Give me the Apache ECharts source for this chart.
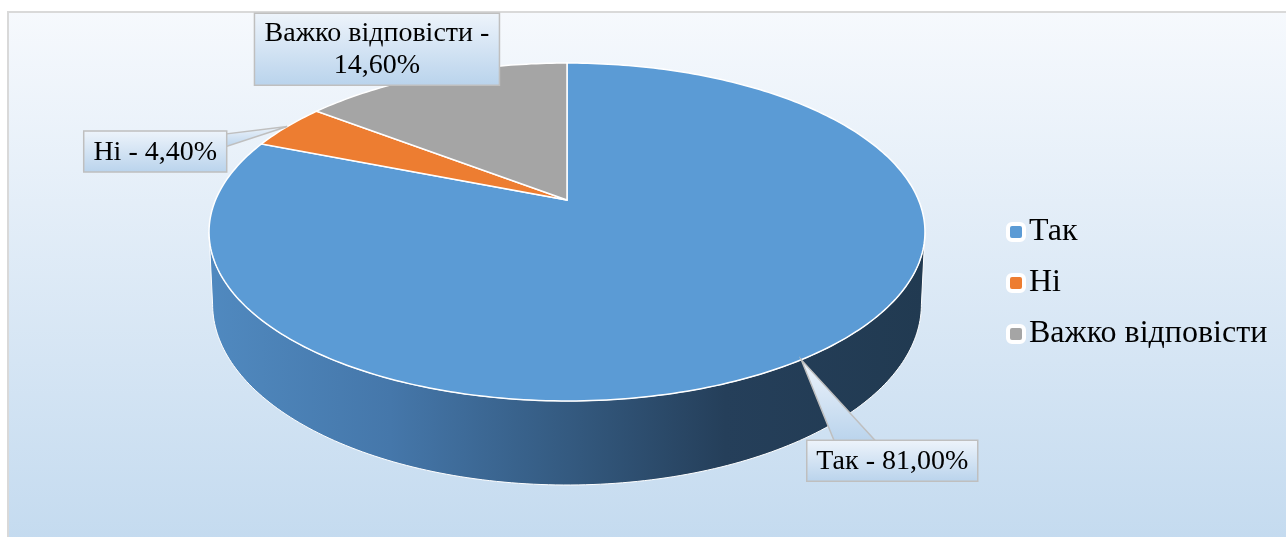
<!DOCTYPE html>
<html>
<head>
<meta charset="utf-8">
<script src="https://cdn.jsdelivr.net/npm/echarts@6/dist/echarts.min.js"></script>
<style>
  html, body { margin: 0; padding: 0; background: #fff; }
  #chart { width: 1286px; height: 537px; }
</style>
</head>
<body>
<div id="chart"></div>
<script>
// дані діаграми
const categories = ['Так', 'Ні', 'Важко відповісти'];
const values = [81.0, 4.4, 14.6];
const colors = ['#5b9bd5', '#ed7d31', '#a5a5a5'];

const serif = '"Times New Roman", "Liberation Serif", "DejaVu Serif", serif';

// розкладка підписів (зсув центру рамки від точки на краю, розмір рамки)
const labelLayout = [
  { dx: 91, dy: 101, w: 171, h: 41, wrap: false, base: 'top', b1: 28, b2: 70 },
  { dx: -132, dy: 25, w: 143, h: 41, wrap: false, base: 'right', b1: 3, b2: 16 },
  { dx: -57, dy: -26, w: 245, h: 72, wrap: true, base: 'none' }
];

// перспектива верхньої та нижньої площини
const topP = { cx: 567, cy: 200, a: 351.5, b: 162.9, k: 0.1893 };
const botP = { cx: 567, cy: 270, a: 348, b: 174.3, k: 0.1893 };

function proj(p, deg) {
  const t = deg * Math.PI / 180;
  const u = Math.cos(t), v = Math.sin(t);
  const d = 1 + p.k * v;
  return [p.cx + p.a * u / d, p.cy - p.b * v / d];
}

function arc(p, from, to) {
  const pts = [];
  const n = Math.max(2, Math.ceil(Math.abs(to - from)));
  for (let i = 0; i <= n; i++) {
    pts.push(proj(p, from + (to - from) * i / n));
  }
  return pts;
}

const total = values.reduce((s, v) => s + v, 0);
const wDeg = Math.asin(topP.k) * 180 / Math.PI; // найширша точка

function fmt(v) {
  return v.toFixed(2).replace('.', ',') + '%';
}

const sideGrad = {
  type: 'linear', x: 212, y: 0, x2: 925, y2: 0, global: true,
  colorStops: [
    { offset: 0, color: '#5089bf' },
    { offset: 0.25, color: '#4577aa' },
    { offset: 0.5, color: '#345a80' },
    { offset: 0.72, color: '#253f5a' },
    { offset: 1, color: '#213a51' }
  ]
};
const boxGrad = {
  type: 'linear', x: 0, y: 0, x2: 0, y2: 1,
  colorStops: [
    { offset: 0, color: '#eef4fb' },
    { offset: 1, color: '#b9d3ec' }
  ]
};

function renderSlice(params, api) {
  const idx = params.seriesIndex;
  let before = 0;
  for (let i = 0; i < idx; i++) before += values[i];
  const s = 90 - 360 * before / total;
  const e = 90 - 360 * (before + values[idx]) / total;
  const children = [];

  // верх
  children.push({
    type: 'polygon',
    z2: 10,
    shape: { points: [[topP.cx, topP.cy]].concat(arc(topP, s, e)) },
    style: { fill: colors[idx], stroke: '#fff', lineWidth: 1.5 }
  });

  // бічна стінка (тільки передня частина)
  const lo = -180 + wDeg, hi = -wDeg;
  [0, 360, -360].forEach(sh => {
    const a = Math.min(s + sh, hi), b = Math.max(e + sh, lo);
    if (a > b) {
      const pts = arc(topP, a, b).concat(arc(botP, b, a));
      children.push({
        type: 'polygon',
        z2: 1,
        shape: { points: pts },
        style: { fill: idx === 0 ? sideGrad : colors[idx], stroke: '#fff', lineWidth: 1 }
      });
    }
  });

  // підпис
  const L = labelLayout[idx];
  const anchor = proj(topP, (s + e) / 2);
  const bx = anchor[0] + L.dx - L.w / 2;
  const by = anchor[1] + L.dy - L.h / 2;
  if (L.base === 'top') {
    children.push({
      type: 'polygon', z2: 100,
      shape: { points: [anchor, [bx + L.b1, by + 2], [bx + L.b2, by + 2]] },
      style: { fill: boxGrad, stroke: '#bfbfbf', lineWidth: 1.5 }
    });
  } else if (L.base === 'right') {
    children.push({
      type: 'polygon', z2: 100,
      shape: { points: [anchor, [bx + L.w - 2, by + L.b1], [bx + L.w - 2, by + L.b2]] },
      style: { fill: boxGrad, stroke: '#bfbfbf', lineWidth: 1.5 }
    });
  }
  children.push({
    type: 'rect', z2: 101,
    shape: { x: bx, y: by, width: L.w, height: L.h },
    style: { fill: boxGrad, stroke: '#bfbfbf', lineWidth: 1.5 }
  });
  const txt = categories[idx] + ' -' + (L.wrap ? '\n' : ' ') + fmt(values[idx]);
  children.push({
    type: 'text', z2: 102,
    x: bx + L.w / 2, y: by + L.h / 2 + 1,
    style: {
      text: txt, fill: '#000', align: 'center', verticalAlign: 'middle',
      fontFamily: serif, fontSize: 28, lineHeight: 32
    }
  });

  return { type: 'group', children: children };
}

const chart = echarts.init(document.getElementById('chart'));
chart.setOption({
  animation: false,
  graphic: [{
    type: 'rect', z: -10,
    shape: { x: 8, y: 12, width: 1290, height: 540 },
    style: {
      stroke: '#d9d9d9', lineWidth: 2,
      fill: {
        type: 'linear', x: 0, y: 0, x2: 0, y2: 1,
        colorStops: [
          { offset: 0, color: '#f6f9fd' },
          { offset: 1, color: '#c3daef' }
        ]
      }
    }
  }],
  legend: {
    orient: 'vertical',
    left: 1001,
    top: 211,
    icon: 'roundRect',
    itemWidth: 16,
    itemHeight: 16,
    itemGap: 19,
    itemStyle: { borderColor: '#fff', borderWidth: 4 },
    textStyle: { fontFamily: serif, fontSize: 32, color: '#000', padding: [0, 0, 0, 0] },
    data: categories
  },
  series: categories.map((name, i) => ({
    name: name,
    type: 'custom',
    coordinateSystem: 'none',
    itemStyle: { color: colors[i] },
    renderItem: renderSlice,
    data: [values[i]]
  }))
});
</script>
</body>
</html>
